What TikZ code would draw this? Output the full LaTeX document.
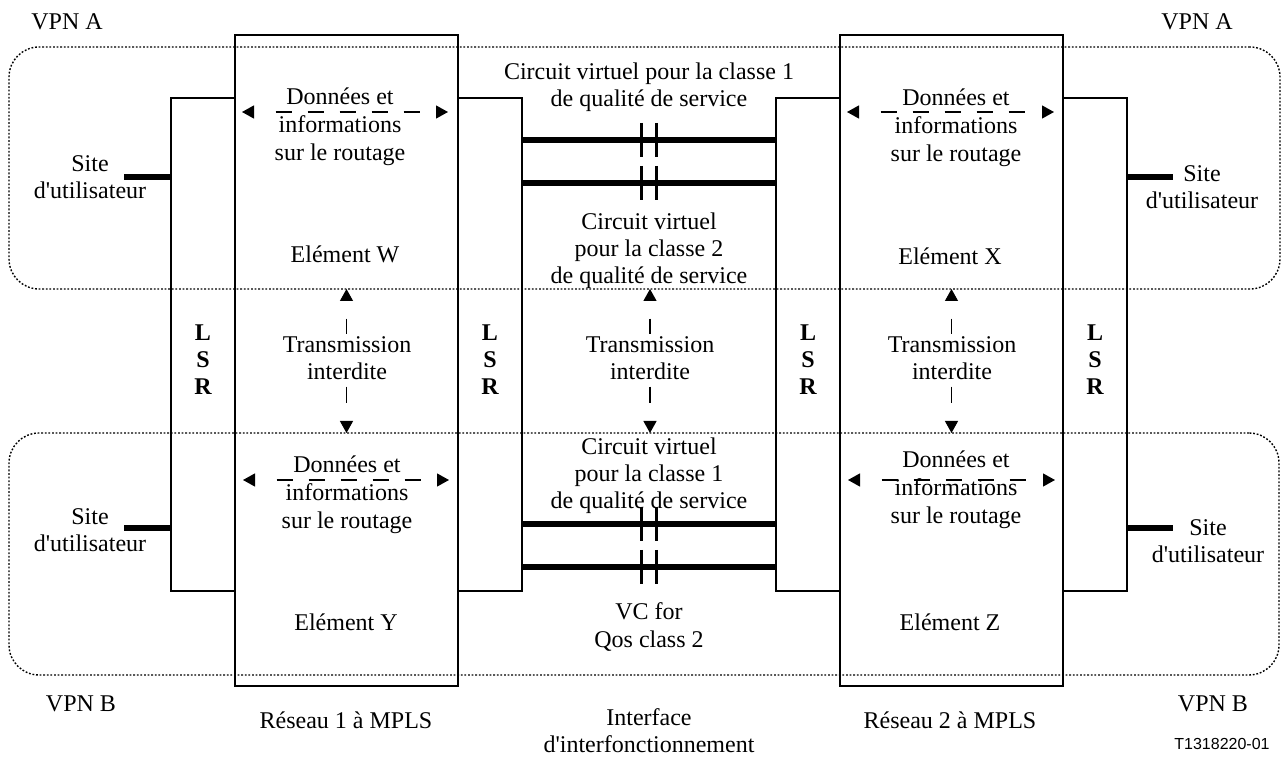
\documentclass[tikz,border=0pt]{standalone}
\usepackage{fontspec}
\setmainfont{Liberation Serif}[Ligatures=TeXOff]
\newfontfamily\codefont{Liberation Sans}
\usetikzlibrary{arrows.meta}
\begin{document}
\begin{tikzpicture}[x=0.5pt,y=-0.5pt,
  every node/.style={inner sep=0pt, outer sep=0pt, align=center,
    font=\fontsize{12pt}{13.5pt}\selectfont},
  vpnzone/.style={draw, line width=0.7pt, dash pattern=on 0.9pt off 0.9pt,
    rounded corners=15pt, minimum width=635.5pt, minimum height=121pt},
  netbox/.style={draw, line width=0.6pt, minimum width=111.5pt, minimum height=325.5pt},
  lsrbox/.style={draw, line width=0.6pt, minimum width=32pt, minimum height=246.5pt},
  vcline/.style={line width=2.6pt},
  vcbar/.style={line width=1.5pt},
  siteline/.style={line width=2.6pt},
  flowarrow/.style={line width=0.6pt,
    {Triangle[length=6pt,width=6.5pt]}-{Triangle[length=6pt,width=6.5pt]},
    dash pattern=on 0pt off 11pt on 8pt off 8pt on 8pt off 8pt on 8pt off 8pt on 8pt off 8pt on 8pt off 30pt},
  blockarrow/.style={line width=0.6pt,
    {Triangle[length=6pt,width=6.5pt]}-{Triangle[length=6pt,width=6.5pt]},
    dash pattern=on 0pt off 9pt on 8pt off 8pt on 8pt off 10pt on 8pt off 20pt},
  lbl/.style={},
  datalbl/.style={font=\fontsize{12pt}{14pt}\selectfont},
  banlbl/.style={fill=white, inner sep=1pt},
  lsrlbl/.style={font=\fontsize{12pt}{13.5pt}\selectfont\bfseries},
  codelbl/.style={font=\codefont\fontsize{8pt}{9pt}\selectfont}
]
\useasboundingbox (0,0) rectangle (1282,758);

% VPN zones (dotted)
\node[vpnzone] (vpnA) at (644.5,168) {};
\node[vpnzone, minimum width=635pt] (vpnB) at (644,554) {};

% MPLS networks
\node[netbox] (bigW) at (346.5,360.5) {};
\node[netbox] (bigX) at (951.5,360.5) {};

% label switching routers
\node[lsrbox] (lsrWo) at (203,344.5) {};
\node[lsrbox] (lsrWi) at (490,344.5) {};
\node[lsrbox] (lsrXi) at (808,344.5) {};
\node[lsrbox] (lsrXo) at (1095,344.5) {};

% virtual circuits across the interworking interface
\foreach \y in {140,183,524,567}
  \draw[vcline] (lsrWi.east |- 0,\y) -- (lsrXi.west |- 0,\y);
\foreach \y in {140,183,524,567}
  \foreach \x in {641,656}
    \draw[vcbar] (\x,\y-17) -- (\x,\y+17);

% user sites
\coordinate (siteTLend) at (124,177);
\coordinate (siteTRend) at (1173,177);
\coordinate (siteBLend) at (124,528);
\coordinate (siteBRend) at (1173,528);
\draw[siteline] (lsrWo.west |- siteTLend) -- (siteTLend);
\draw[siteline] (lsrXo.east |- siteTRend) -- (siteTRend);
\draw[siteline] (lsrWo.west |- siteBLend) -- (siteBLend);
\draw[siteline] (lsrXo.east |- siteBRend) -- (siteBRend);

% data and routing exchanges
\coordinate (dTLa) at (242,112);  \coordinate (dTLb) at (448,112);
\coordinate (dTRa) at (847,112);  \coordinate (dTRb) at (1054,112);
\coordinate (dBLa) at (243,480);  \coordinate (dBLb) at (449,480);
\coordinate (dBRa) at (848,480);  \coordinate (dBRb) at (1055,480);
\draw[flowarrow] (dTLa) -- (dTLb);
\draw[flowarrow] (dTRa) -- (dTRb);
\draw[flowarrow] (dBLa) -- (dBLb);
\draw[flowarrow] (dBRa) -- (dBRb);

% forbidden transmission between VPNs
\coordinate (ifcol) at (650,360);
\draw[blockarrow] (vpnA.south -| bigW) -- (vpnB.north -| bigW);
\draw[blockarrow] (vpnA.south -| ifcol) -- (vpnB.north -| ifcol);
\draw[blockarrow] (vpnA.south -| bigX) -- (vpnB.north -| bigX);

% labels
\node[lbl] (vpnAl) at (67,22) {VPN A};
\node[lbl] (vpnAr) at (1197,22) {VPN A};
\node[lbl] (vpnBl) at (81,704) {VPN B};
\node[lbl] (vpnBr) at (1213,704) {VPN B};

\node[lbl] (siteTL) at (90,177) {Site\\d'utilisateur};
\node[lbl] (siteTR) at (1202,187) {Site\\d'utilisateur};
\node[lbl] (siteBL) at (90,530) {Site\\d'utilisateur};
\node[lbl] (siteBR) at (1208,541) {Site\\d'utilisateur};

\node[datalbl] (dataTL) at (340,127) {Données et\\informations\\sur le routage};
\node[datalbl] (dataTR) at (956,128) {Données et\\informations\\sur le routage};
\node[datalbl] (dataBL) at (347,495) {Données et\\informations\\sur le routage};
\node[datalbl] (dataBR) at (956,490) {Données et\\informations\\sur le routage};

\node[lbl] (elW) at (345,254) {Elément W};
\node[lbl] (elX) at (950,256) {Elément X};
\node[lbl] (elY) at (346,622) {Elément Y};
\node[lbl] (elZ) at (950,622) {Elément Z};

\node[lsrlbl] (lsrWoT) at (lsrWo |- 0,360) {L\\S\\R};
\node[lsrlbl] (lsrWiT) at (lsrWi |- 0,360) {L\\S\\R};
\node[lsrlbl] (lsrXiT) at (lsrXi |- 0,360) {L\\S\\R};
\node[lsrlbl] (lsrXoT) at (lsrXo |- 0,360) {L\\S\\R};

\node[banlbl] (banW) at (347,358) {Transmission\\interdite};
\node[banlbl] (banI) at (650,358) {Transmission\\interdite};
\node[banlbl] (banX) at (952,358) {Transmission\\interdite};

\node[lbl] (vcA1) at (649,87) {Circuit virtuel pour la classe 1\\de qualité de service};
\node[lbl] (vcA2) at (649,251) {Circuit virtuel\\pour la classe 2\\de qualité de service};
\node[lbl] (vcB1) at (649,476) {Circuit virtuel\\pour la classe 1\\de qualité de service};
\node[lbl] (vcB2) at (649,627) {VC for\\Qos class 2};

\node[lbl] (net1) at (346,720) {Réseau 1 à MPLS};
\node[lbl] (net2) at (950,720) {Réseau 2 à MPLS};
\node[lbl] (iwf) at (649,731) {Interface\\d'interfonctionnement};
\node[codelbl] (code) at (1222,744) {T1318220-01};
\end{tikzpicture}
\end{document}
